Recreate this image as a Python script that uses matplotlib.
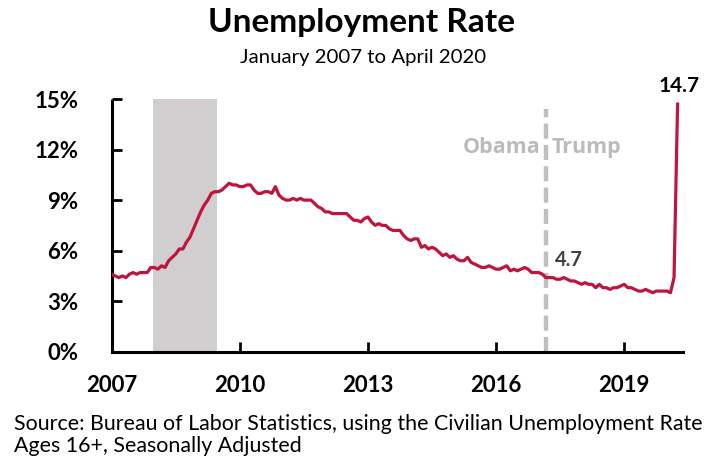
import matplotlib
matplotlib.use("Agg")
import matplotlib.pyplot as plt
import numpy as np

# monthly unemployment rate, Jan 2007 .. Apr 2020 (BLS, seasonally adjusted)
rate = [
    4.6, 4.5, 4.4, 4.5, 4.4, 4.6, 4.7, 4.6, 4.7, 4.7, 4.7, 5.0,   # 2007
    5.0, 4.9, 5.1, 5.0, 5.4, 5.6, 5.8, 6.1, 6.1, 6.5, 6.8, 7.3,   # 2008
    7.8, 8.3, 8.7, 9.0, 9.4, 9.5, 9.5, 9.6, 9.8, 10.0, 9.9, 9.9,  # 2009
    9.8, 9.8, 9.9, 9.9, 9.6, 9.4, 9.4, 9.5, 9.5, 9.4, 9.8, 9.3,   # 2010
    9.1, 9.0, 9.0, 9.1, 9.0, 9.1, 9.0, 9.0, 9.0, 8.8, 8.6, 8.5,   # 2011
    8.3, 8.3, 8.2, 8.2, 8.2, 8.2, 8.2, 8.0, 7.8, 7.8, 7.7, 7.9,   # 2012
    8.0, 7.7, 7.5, 7.6, 7.5, 7.5, 7.3, 7.2, 7.2, 7.2, 6.9, 6.7,   # 2013
    6.6, 6.7, 6.7, 6.2, 6.3, 6.1, 6.2, 6.1, 5.9, 5.7, 5.8, 5.6,   # 2014
    5.7, 5.5, 5.4, 5.4, 5.6, 5.3, 5.2, 5.1, 5.0, 5.0, 5.1, 5.0,   # 2015
    4.9, 4.9, 5.0, 5.1, 4.8, 4.9, 4.8, 4.9, 5.0, 4.9, 4.7, 4.7,   # 2016
    4.7, 4.6, 4.4, 4.4, 4.4, 4.3, 4.3, 4.4, 4.3, 4.2, 4.2, 4.1,   # 2017
    4.0, 4.1, 4.0, 4.0, 3.8, 4.0, 3.8, 3.8, 3.7, 3.8, 3.8, 3.9,   # 2018
    4.0, 3.8, 3.8, 3.7, 3.6, 3.6, 3.7, 3.6, 3.5, 3.6, 3.6, 3.6,   # 2019
    3.6, 3.5, 4.4, 14.7,                                          # 2020
]
start_year = 2007
months = start_year + np.arange(len(rate)) / 12.0

recession = (2007.96, 2009.46)
transition = 2017.17
year_ticks = [2007, 2010, 2013, 2016, 2019]
pct_ticks = [0, 3, 6, 9, 12, 15]

RED = "#C0143C"
FONT = "Lato"

fig = plt.figure(figsize=(7.05, 4.62), dpi=100)
ax = fig.add_axes([0.1584, 0.2387, 0.8106, 0.547])

ax.axvspan(recession[0], recession[1], ymin=0, ymax=1, color="#D0CECE", lw=0, zorder=0)
ax.plot([transition, transition], [0, 14.4], color="#BFBFBF", lw=3.2,
        dashes=(3.4, 1.4), zorder=1)
ax.plot(months, rate, color=RED, lw=2.3, solid_joinstyle="round", zorder=3)

ax.set_xlim(2007, 2020.38)
ax.set_ylim(0, 15)
ax.set_xticks(year_ticks)
ax.set_xticklabels([str(y) for y in year_ticks], fontfamily=FONT,
                   fontweight="bold", fontsize=16)
ax.set_yticks(pct_ticks)
ax.set_yticklabels([f"{p}%" for p in pct_ticks], fontfamily=FONT,
                   fontweight="bold", fontsize=16)
ax.tick_params(axis="both", direction="in", length=7, width=2, color="black")
ax.tick_params(axis="x", pad=17)
ax.tick_params(axis="y", pad=24)
for lbl in ax.get_yticklabels():
    lbl.set_horizontalalignment("right")

for side in ("top", "right"):
    ax.spines[side].set_visible(False)
for side in ("left", "bottom"):
    ax.spines[side].set_linewidth(2.2)
ax.spines["left"].set_capstyle("butt")

ax.text(transition - 0.12, 11.8, "Obama", ha="right", va="baseline",
        color="#BBBBBB", fontfamily="Open Sans", fontweight="bold", fontsize=15.5)
ax.text(transition + 0.12, 11.8, "Trump", ha="left", va="baseline",
        color="#BBBBBB", fontfamily="Open Sans", fontweight="bold", fontsize=15.5)
ax.text(2017.71, 5.09, "4.7", ha="center", va="baseline",
        color="#404040", fontfamily=FONT, fontweight="bold", fontsize=14.5)
ax.text(2020.29, 15.41, "14.7", ha="center", va="baseline",
        color="black", fontfamily=FONT, fontweight="bold", fontsize=15,
        clip_on=False)

fig.text(0.513, 1 - 32 / 462, "Unemployment Rate", ha="center", va="baseline",
         fontfamily=FONT, fontweight="bold", fontsize=24)
fig.text(0.515, 1 - 63 / 462, "January 2007 to April 2020", ha="center",
         va="baseline", fontfamily=FONT, fontsize=14.7)
fig.text(0.02, 1 - 430 / 462, "Source: Bureau of Labor Statistics, using the Civilian Unemployment Rate",
         ha="left", va="baseline", fontfamily=FONT, fontsize=15.4)
fig.text(0.02, 1 - 452 / 462, "Ages 16+, Seasonally Adjusted",
         ha="left", va="baseline", fontfamily=FONT, fontsize=15.4)

fig.savefig("out.png", dpi=100)
